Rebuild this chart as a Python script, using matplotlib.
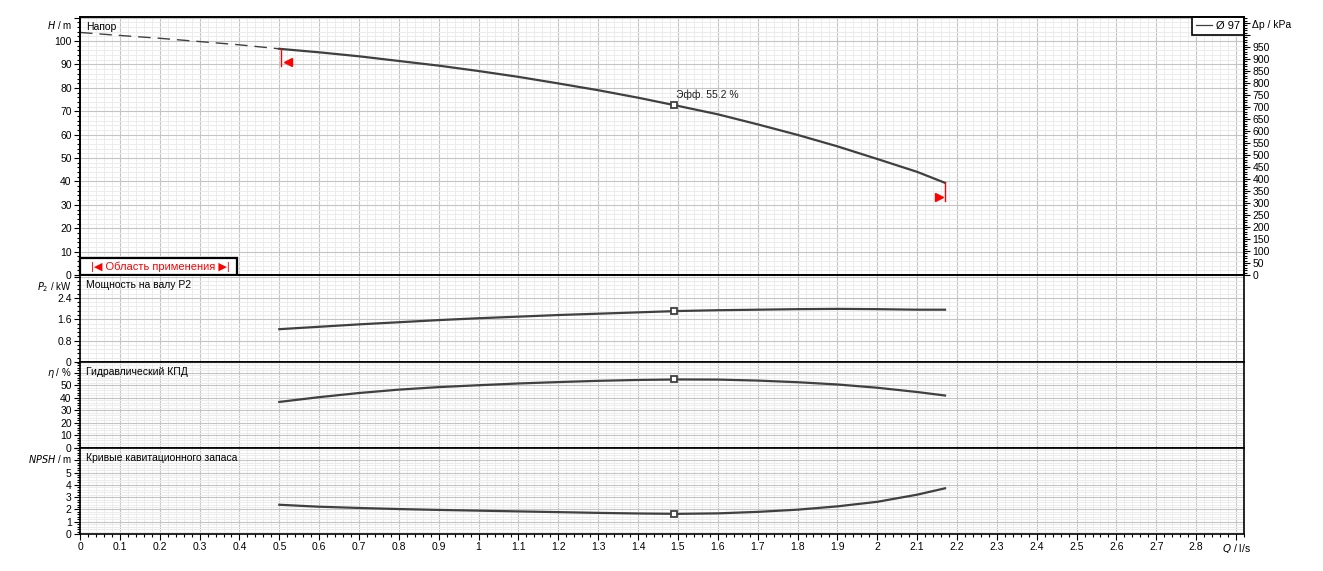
import numpy as np
import matplotlib
matplotlib.use("Agg")
import matplotlib.pyplot as plt
from matplotlib.ticker import MultipleLocator, FuncFormatter
from matplotlib.lines import Line2D
from matplotlib.patches import Rectangle

plt.rcParams["font.family"] = ["Liberation Sans", "DejaVu Sans"]
plt.rcParams["font.size"] = 7.5
plt.rcParams["mathtext.fontset"] = "dejavusans"

# Data (Q in l/s)
q_dash = [0.0, 0.1, 0.2, 0.3, 0.4, 0.5]
h_dash = [103.7, 102.4, 101.2, 99.8, 98.4, 96.7]

q = [0.5, 0.6, 0.7, 0.8, 0.9, 1.0, 1.1, 1.2, 1.3, 1.4, 1.5, 1.6, 1.7, 1.8, 1.9, 2.0, 2.1, 2.17]
head = [96.7, 95.2, 93.5, 91.5, 89.5, 87.2, 84.7, 81.9, 79.0, 75.8, 72.3, 68.7, 64.4, 59.9, 55.0, 49.6, 44.1, 39.4]
power = [1.23, 1.32, 1.41, 1.49, 1.57, 1.64, 1.70, 1.76, 1.81, 1.86, 1.91, 1.94, 1.96, 1.98, 1.99, 1.98, 1.96, 1.96]
eff = [36.7, 40.5, 43.8, 46.5, 48.5, 50.0, 51.4, 52.5, 53.5, 54.2, 54.6, 54.5, 53.7, 52.4, 50.6, 48.0, 44.6, 41.8]
npsh = [2.38, 2.22, 2.12, 2.03, 1.96, 1.90, 1.84, 1.78, 1.72, 1.67, 1.64, 1.68, 1.80, 1.98, 2.25, 2.62, 3.20, 3.72]

# best efficiency point
bep_q = 1.49
bep_h = 72.6
bep_p = 1.91
bep_eta = 54.6
bep_npsh = 1.64
bep_label = "Эфф. 55.2 %"

# operating range limits
range_q = [0.505, 2.17]
range_h_top = [96.7, 39.4]
range_h_bot = [89.5, 31.6]
range_arrow_h = [91.0, 33.3]

kpa_per_m = 9.75
curve_col = "#404040"
major_col = "#c4c4c4"
minor_col = "#ececec"

W, H = 1323, 571
fig = plt.figure(figsize=(W / 100, H / 100), dpi=100)

left, right = 80 / W, 1244 / W
bounds = [(17, 275), (275, 362), (362, 448), (448, 534)]
axes = []
for top, bot in bounds:
    ax = fig.add_axes([left, 1 - bot / H, right - left, (bot - top) / H],
                      sharex=axes[0] if axes else None)
    axes.append(ax)
ax_h, ax_p, ax_e, ax_n = axes


def style(ax, ymax, major, minor, label_max, fmt="{:g}"):
    ax.set_xlim(0, 2.92)
    ax.set_ylim(0, ymax)
    ax.xaxis.set_major_locator(MultipleLocator(0.1))
    ax.xaxis.set_minor_locator(MultipleLocator(0.02))
    ax.yaxis.set_major_locator(MultipleLocator(major))
    ax.yaxis.set_minor_locator(MultipleLocator(minor))
    ax.yaxis.set_major_formatter(FuncFormatter(
        lambda v, p: fmt.format(round(v, 2)) if v <= label_max + 1e-6 else ""))
    ax.grid(which="minor", color=minor_col, lw=0.7)
    ax.grid(which="major", color=major_col, lw=0.8)
    ax.set_axisbelow(True)
    ax.tick_params(which="major", direction="out", length=4, width=0.8, pad=2, labelsize=7.5)
    ax.tick_params(which="minor", direction="out", length=2.5, width=0.8)
    for s in ax.spines.values():
        s.set_linewidth(1.2)


style(ax_h, 110.3, 10, 2, 100)
style(ax_p, 3.26, 0.8, 0.16, 2.4)
style(ax_e, 68.5, 10, 2, 50)
style(ax_n, 7.0, 1, 0.2, 5)

for ax in axes[:-1]:
    ax.tick_params(axis="x", which="both", bottom=False, labelbottom=False)
ax_n.xaxis.set_major_formatter(FuncFormatter(
    lambda v, p: "$Q$ / l/s" if abs(v - 2.9) < 1e-6 else "{:g}".format(round(v, 1))))

# head panel
ax_h.plot(q_dash, h_dash, color=curve_col, lw=1.0, ls=(0, (9, 5)))
ax_h.plot(q, head, color=curve_col, lw=1.6)
ax_h.plot([bep_q], [bep_h], marker="s", ms=5, mfc="white", mec=curve_col, mew=1.3)
ax_h.text(bep_q + 0.005, bep_h + 2.2, bep_label, fontsize=7.5, ha="left", va="bottom", color="#202020")
for qq, ht, hb, ha, mk in zip(range_q, range_h_top, range_h_bot, range_arrow_h, ["<", ">"]):
    ax_h.plot([qq, qq], [hb, ht], color="red", lw=1.0)
    dx = 0.016 if mk == "<" else -0.016
    ax_h.plot([qq + dx], [ha], marker=mk, ms=5.5, color="red", mec="red")

ax_h.legend(handles=[Line2D([], [], color=curve_col, lw=0.9)], labels=["Ø 97"],
            loc="upper right", borderaxespad=0, fancybox=False, framealpha=1,
            edgecolor="black", handlelength=1.4, handletextpad=0.4, borderpad=0.35,
            fontsize=8).get_frame().set_linewidth(1.2)

# application range box
ax_h.add_patch(Rectangle((0, 0), 157 / 1164, 17 / 258, transform=ax_h.transAxes,
                         facecolor="white", edgecolor="black", lw=1.6, zorder=5, clip_on=False))
ax_h.text(0.5 * 157 / 1164 + 0.002, 8.5 / 258, "|◀ Область применения ▶|", transform=ax_h.transAxes,
          color="red", fontsize=8, ha="center", va="center", zorder=6,
          family=["Liberation Sans", "DejaVu Sans"])

# pressure axis on the right
ax_dp = ax_h.twinx()
ax_dp.set_ylim(0, 110.3 * kpa_per_m)
ax_dp.yaxis.set_major_locator(MultipleLocator(50))
ax_dp.yaxis.set_minor_locator(MultipleLocator(10))
ax_dp.yaxis.set_major_formatter(FuncFormatter(lambda v, p: "{:g}".format(v) if v <= 950 else ""))
ax_dp.tick_params(which="major", direction="out", length=4, width=0.8, pad=2, labelsize=7.5)
ax_dp.tick_params(which="minor", direction="out", length=2.5, width=0.8)
for s in ax_dp.spines.values():
    s.set_linewidth(1.2)
fig.text(1252 / W, 1 - 25 / H, "Δp / kPa", fontsize=7.5, ha="left", va="center")

# lower panels
ax_p.plot(q, power, color=curve_col, lw=1.6)
ax_p.plot([bep_q], [bep_p], marker="s", ms=5, mfc="white", mec=curve_col, mew=1.3)
ax_e.plot(q, eff, color=curve_col, lw=1.6)
ax_e.plot([bep_q], [bep_eta], marker="s", ms=5, mfc="white", mec=curve_col, mew=1.3)
ax_n.plot(q, npsh, color=curve_col, lw=1.6)
ax_n.plot([bep_q], [bep_npsh], marker="s", ms=5, mfc="white", mec=curve_col, mew=1.3)

# panel titles and axis names
titles = ["Напор", "Мощность на валу P2", "Гидравлический КПД", "Кривые кавитационного запаса"]
names = ["$H$ / m", "$P_2$ / kW", "$\\eta$ / %", "$NPSH$ / m"]
name_y = [25, 287, 373, 459]
for ax, t, n, ny, (top, bot) in zip(axes, titles, names, name_y, bounds):
    ax.text(6 / 1164, 1 - 10 / (bot - top), t, transform=ax.transAxes, fontsize=7.5,
            ha="left", va="center", zorder=4)
    fig.text(72 / W, 1 - ny / H, n, fontsize=7, ha="right", va="center")

fig.savefig("out.png", dpi=100)
